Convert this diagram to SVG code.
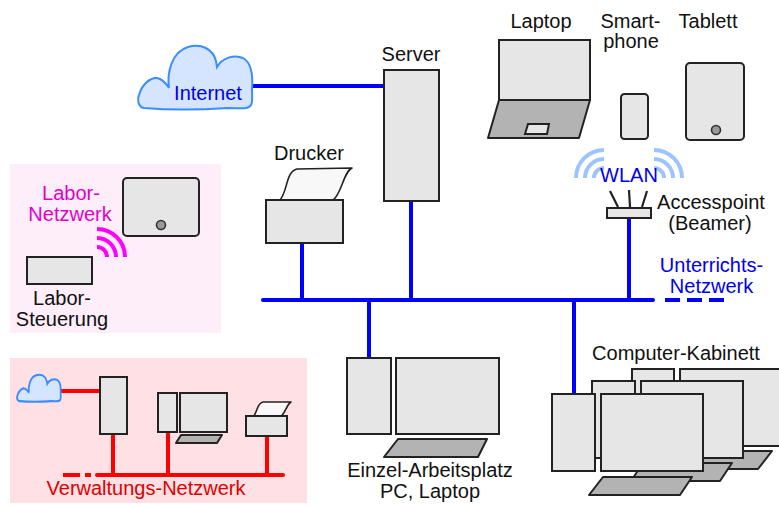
<svg xmlns="http://www.w3.org/2000/svg" xmlns:xlink="http://www.w3.org/1999/xlink" width="779" height="506" viewBox="0 0 779 506">
  <defs>
    <style>
      .dev{fill:#e6e6e6;stroke:#222;stroke-width:2}
      .kb{fill:#b3b3b3;stroke:#222;stroke-width:2;stroke-linejoin:round}
      .paper{fill:#f8f8f8;stroke:#222;stroke-width:1.6;stroke-linejoin:round}
      .dot{fill:#999;stroke:#333;stroke-width:1.6}
      .cloud{fill:#d5e5ff;stroke:#3b8cff;stroke-width:2}
      .lan{stroke:#0000ff;stroke-width:4;fill:none;stroke-linecap:round}
      .lanb{stroke:#0000ff;stroke-width:4;fill:none}
      .red{stroke:#ff0000;stroke-width:4;fill:none;stroke-linecap:round}
      .redb{stroke:#ff0000;stroke-width:4;fill:none}
      .wave{fill:none;stroke-width:4}
      text{font-family:"Liberation Sans",Arial,sans-serif;font-size:20px;text-anchor:middle;fill:#111}
      .tb{fill:#0000ee}
      .tm{fill:#e000cc}
      .tr{fill:#dd0000}
    </style>
    <!-- cloud outline, 115 x 66 box at origin -->
    <path id="cloudShape" d="M6,64 C0,63 -1,55 1,51 C4,40 14,31 22,35 C26,37 29,41 31,44 C29,30 33,8 50,3 C63,-1 75,5 78,17 L79,23 C84,14 96,10 105,14 C114,19 115,32 114,45 C114,52 115,58 113,61 C110,66 100,64 90,64 C60,66 30,66 6,64 Z"/>
  </defs>

  <!-- area backgrounds -->
  <rect x="10" y="164" width="211" height="169" fill="#fdeefa"/>
  <rect x="10" y="358" width="297" height="145" fill="#ffe1e5"/>

  <!-- connectors -->
  <g id="connectors">
    <!-- teaching network (blue) -->
    <line class="lanb" x1="252" y1="86" x2="385" y2="86"/>
    <line class="lan" x1="263" y1="300" x2="653" y2="300"/>
    <line class="lanb" x1="665" y1="300" x2="724" y2="300" stroke-dasharray="15 7"/>
    <line class="lanb" x1="302" y1="243" x2="302" y2="300"/>
    <line class="lanb" x1="411" y1="201" x2="411" y2="300"/>
    <line class="lanb" x1="629" y1="218" x2="629" y2="300"/>
    <line class="lanb" x1="369" y1="300" x2="369" y2="358"/>
    <line class="lanb" x1="574" y1="300" x2="574" y2="394"/>
    <!-- administration network (red) -->
    <line class="redb" x1="60" y1="391" x2="100" y2="391"/>
    <line class="red" x1="97" y1="475" x2="283" y2="475"/>
    <line class="redb" x1="63" y1="475" x2="91" y2="475" stroke-dasharray="17 5"/>
    <line class="redb" x1="113" y1="434" x2="113" y2="475"/>
    <line class="redb" x1="168" y1="432" x2="168" y2="475"/>
    <line class="redb" x1="267" y1="436" x2="267" y2="475"/>
  </g>

  <!-- Internet -->
  <g id="internet">
    <use xlink:href="#cloudShape" class="cloud" transform="translate(138,44)"/>
    <text class="tb" x="208" y="100">Internet</text>
  </g>

  <!-- Server -->
  <g id="server">
    <rect class="dev" x="384" y="70" width="55" height="131"/>
    <text x="411" y="61">Server</text>
  </g>

  <!-- Drucker -->
  <g id="drucker">
    <path class="paper" d="M279,201 C288,193 285,172 297,169 L352,168 C343,172 342,195 332,201 Z"/>
    <rect class="dev" x="266" y="200" width="77" height="43"/>
    <text x="309" y="160">Drucker</text>
  </g>

  <!-- Laptop -->
  <g id="laptop">
    <rect class="dev" x="499" y="40" width="91" height="60"/>
    <path class="kb" d="M499,100 L590,100 L579,138 L488,138 Z"/>
    <path class="dev" d="M528,124 L549,124 L547,134 L525,134 Z" stroke-width="1.6"/>
    <text x="541" y="28">Laptop</text>
  </g>

  <!-- Smartphone -->
  <g id="smartphone">
    <rect class="dev" x="621" y="94" width="27" height="45" rx="3.5"/>
    <text x="630.5" y="28">Smart-</text>
    <text x="631" y="48">phone</text>
  </g>

  <!-- Tablett -->
  <g id="tablett">
    <rect class="dev" x="686" y="63" width="58" height="77" rx="4"/>
    <circle class="dot" cx="716" cy="130" r="4.5"/>
    <text x="708" y="28">Tablett</text>
  </g>

  <!-- Accesspoint -->
  <g id="accesspoint">
    <g class="wave" stroke="#9cc4ff">
      <path d="M594,178 A10,10 0 0 1 604,168"/>
      <path d="M585,178 A19,19 0 0 1 604,159"/>
      <path d="M576,178 A28,28 0 0 1 604,150"/>
      <path d="M654,168 A10,10 0 0 1 664,178"/>
      <path d="M654,159 A19,19 0 0 1 673,178"/>
      <path d="M654,150 A28,28 0 0 1 682,178"/>
    </g>
    <text class="tb" x="629" y="182">WLAN</text>
    <g stroke="#222" stroke-width="2.2">
      <line x1="618" y1="207" x2="610" y2="191"/>
      <line x1="630" y1="207" x2="629" y2="190"/>
      <line x1="642" y1="207" x2="647" y2="191"/>
    </g>
    <rect class="dev" x="607" y="208" width="44" height="10"/>
    <text x="711" y="209">Accesspoint</text>
    <text x="710" y="230">(Beamer)</text>
  </g>

  <!-- Unterrichts-Netzwerk label -->
  <g id="unterricht-label">
    <text class="tb" x="711.5" y="272">Unterrichts-</text>
    <text class="tb" x="711.5" y="293">Netzwerk</text>
  </g>

  <!-- Labor-Netzwerk -->
  <g id="labor-tablet">
    <rect class="dev" x="123" y="178" width="76" height="58" rx="4"/>
    <circle class="dot" cx="161" cy="225" r="4.5"/>
  </g>
  <g id="labor-netzwerk">
    <g class="wave" stroke="#ff00ff">
      <path d="M97,247 A10,10 0 0 1 107,257"/>
      <path d="M97,238 A19,19 0 0 1 116,257"/>
      <path d="M97,229 A28,28 0 0 1 125,257"/>
    </g>
    <text class="tm" x="71" y="200">Labor-</text>
    <text class="tm" x="70" y="221">Netzwerk</text>
  </g>
  <g id="labor-steuerung">
    <rect class="dev" x="27" y="257" width="65" height="27"/>
    <text x="62" y="305">Labor-</text>
    <text x="62" y="326">Steuerung</text>
  </g>

  <!-- Einzel-Arbeitsplatz -->
  <g id="einzelplatz">
    <rect class="dev" x="347" y="358" width="44" height="76"/>
    <rect class="dev" x="396" y="358" width="103" height="76"/>
    <path class="kb" d="M398,439 L487,439 L478,457 L384,457 Z"/>
    <text x="430" y="477">Einzel-Arbeitsplatz</text>
    <text x="430" y="498">PC, Laptop</text>
  </g>

  <!-- Computer-Kabinett -->
  <g id="kabinett">
    <text x="676" y="360">Computer-Kabinett</text>
    <!-- back row -->
    <path class="kb" d="M683,451 L772,451 L758,469 L669,469 Z"/>
    <rect class="dev" x="632" y="369" width="42" height="77"/>
    <rect class="dev" x="680" y="369" width="102" height="77"/>
    <!-- middle row -->
    <path class="kb" d="M643,463 L732,463 L720,481 L631,481 Z"/>
    <rect class="dev" x="592" y="381" width="43" height="77"/>
    <rect class="dev" x="641" y="381" width="102" height="77"/>
    <!-- front row -->
    <path class="kb" d="M603,477 L692,477 L680,495 L589,495 Z"/>
    <rect class="dev" x="552" y="394" width="43" height="77"/>
    <rect class="dev" x="601" y="394" width="102" height="77"/>
  </g>

  <!-- Verwaltungs-Netzwerk -->
  <g id="verw-internet">
    <use xlink:href="#cloudShape" class="cloud" vector-effect="non-scaling-stroke" transform="translate(17,374) scale(0.383,0.424)" style="stroke-width:4.8"/>
  </g>
  <g id="verw-server">
    <rect class="dev" x="100" y="377" width="27" height="57"/>
  </g>
  <g id="verw-pc">
    <rect class="dev" x="158" y="393" width="19" height="39"/>
    <rect class="dev" x="180" y="393" width="47" height="39"/>
    <path class="kb" d="M181,435 L222,435 L217,443 L176,443 Z" stroke-width="1.6"/>
  </g>
  <g id="verw-drucker">
    <path class="paper" d="M253,417 C258,412 256,404 263,402 L291,402 C286,405 286,413 280,417 Z" stroke-width="1.2"/>
    <rect class="dev" x="246" y="416" width="41" height="20"/>
  </g>
  <g id="verw-label">
    <text class="tr" x="146" y="495">Verwaltungs-Netzwerk</text>
  </g>
</svg>
